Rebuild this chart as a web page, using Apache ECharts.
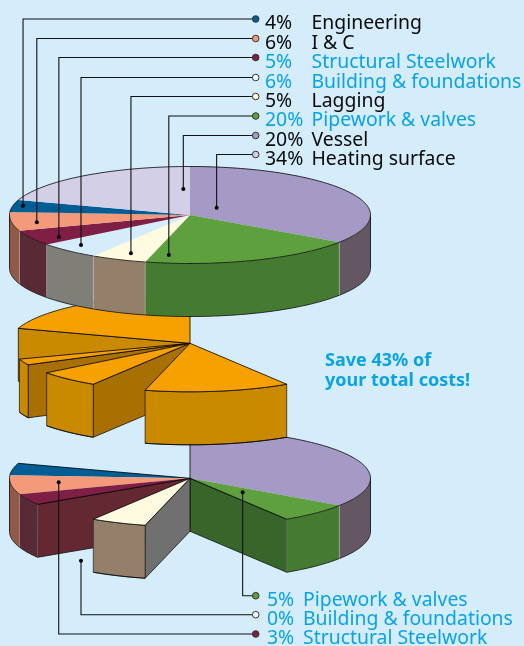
<!DOCTYPE html>
<html><head><meta charset="utf-8">
<style>html,body{margin:0;padding:0;background:#d5ecfb}#c{width:524px;height:646px}</style>
<script src="https://cdn.jsdelivr.net/npm/echarts@6/dist/echarts.min.js"></script>
</head><body><div id="c"></div>
<script>
// ---------- data ----------
var categories = ['Heating surface','Pipework & valves','Lagging','Building & foundations','Structural Steelwork','I & C','Engineering','Vessel'];
var shares = [34.5,19.5,5,5.6,5.1,6.3,4,20];
var savedSpans = [[80,100,7],[67.7,69.7,4],[59,64.6,3],[41,54,1]];
var keptSpans = [[76,80,6],[69.7,76,5],[66,69.7,4],[0,34.5,0],[34.5,41,1],[54,59,2]];
var legendNames = ['Engineering','I & C','Structural Steelwork','Building & foundations','Lagging','Pipework & valves','Vessel','Heating surface'];
var legendValues = ['4%','6%','5%','6%','5%','20%','20%','34%'];
var remainNames = ['Pipework & valves','Building & foundations','Structural Steelwork'];
var remainValues = ['5%','0%','3%'];
var headline = ['Save 43% of','your total costs!'];

// ---------- styles / layout ----------
var BG='#d5ecfb', BLUE='#0aa3e6', INK='#0a0a0a', ORANGE='#f7a100', ORANGE_W='#c98a00', ORANGE_C='#a87000';
var topColor=['#a59ac6','#5fa03e','#fffbe0',BG,'#7f1f45','#f4997a','#005e94','#d3cfe6'];
var wallColor=['#645763','#457b30','#94806a','#7f7f78','#582a35','#915947','#005e94','#d3cfe6'];
var CX=190, RX=180.5, RY=48.5, DEPTH=53, SQ=RY/RX;
var pies=[{cy:215},{cy:343.3},{cy:478.3}];
var keptCut=[null,null,'#642833',null,'#38652a','#707070'];
var keptEdges=[[0,1],[0,0],[1,0],[1,0],[0,1],[1,1]];
var savedCut=[ORANGE_W,ORANGE_C,ORANGE_C,null];
var fontFam='"Noto Sans","Open Sans",sans-serif';

var cum=0, fullSpans=shares.map(function(s,i){var r=[cum,cum+s,i];cum+=s;return r;});

function project(api,cy,r,pct,drop){var p=api.coord([r,pct]);return [p[0],cy+(p[1]-cy)*SQ+(drop||0)];}
function arc(api,cy,a,b,drop){var n=Math.max(1,Math.ceil((b-a)*4)),o=[];for(var i=0;i<=n;i++)o.push(project(api,cy,1,a+(b-a)*i/n,drop));return o;}
function line(pts,c,w){return {type:'polyline',shape:{points:pts},style:{fill:null,stroke:c||'#000',lineWidth:w||0.8},silent:true};}
function poly(pts,f,s,w){return {type:'polygon',shape:{points:pts},style:{fill:f,stroke:s||null,lineWidth:s?(w||0.8):0},silent:true};}

function sectorRenderer(o){
  return function(params,api){
    var idx=params.dataIndex, a=api.value(0), b=api.value(1), c=api.value(2), cy=o.cy, ch=[];
    var cen=project(api,cy,0,0), cen2=[cen[0],cen[1]+DEPTH];
    var faceCol=o.face?o.face:topColor[c], wallCol=o.wall?o.wall:wallColor[c];
    var cut=o.cut?o.cut[idx]:null;
    if(cut){
      var ed=(Math.sin(a*Math.PI/50)<0)?a:b, rim=project(api,cy,1,ed);
      ch.push(poly([cen,rim,[rim[0],rim[1]+DEPTH],cen2],cut,'#111',0.8));
    }
    var wa=Math.max(a,25), wb=Math.min(b,75);
    if(wb>wa){
      var t=arc(api,cy,wa,wb,0), bt=arc(api,cy,wa,wb,DEPTH);
      ch.push(poly(t.concat(bt.slice().reverse()),wallCol,o.wallEdge&&o.wallEdge(idx)||'rgba(255,255,255,0.28)',0.7));
      ch.push(line(bt));
      if(a<=25) ch.push(line([t[0],bt[0]]));
      if(b>=75) ch.push(line([t[t.length-1],bt[bt.length-1]]));
    }
    var top=arc(api,cy,a,b,0);
    ch.push(poly([cen].concat(top),faceCol));
    ch.push(line(top));
    var e=o.edges?o.edges[idx]:[0,0];
    if(e[0]) ch.push(line([cen,top[0]]));
    if(e[1]) ch.push(line([cen,top[top.length-1]]));
    return {type:'group',children:ch};
  };
}

function sectorSeries(pieIdx,spans,o){
  o.cy=pies[pieIdx].cy;
  return {type:'custom',coordinateSystem:'polar',polarIndex:pieIdx,data:spans,clip:false,silent:true,animation:false,renderItem:sectorRenderer(o)};
}

// anchors: share position on the pie, radial fraction, extra drop below the face
var rowsA=[19,38.5,57.5,77.5,96.5,116,135.5,154.5];
var rowsB=[595.7,614.7,634];
var anchorsA=[[78.2,.944],[72.2,.862],[66.1,.857],[62.3,.865],[56.25,.855],[52.25,.833],[98.9,.537],[12.4,.21]];
var anchorsB=[[37.4,.41,0],[62.3,.865,52.4],[73.2,.732,0]];
var dotA=['#005e94','#f4997a','#7f1f45','#f4fafd','#fffbe0','#5fa03e','#a59ac6','#d3cfe6'];
var dotB=['#5fa03e','#f4fafd','#7f1f45'];
var txtA=[INK,INK,BLUE,BLUE,INK,BLUE,INK,INK];
var LEGX=255.7;

function leaderRenderer(cy,rows,anchors,dots,vals,names,cols,xPct,xName){
  return function(params,api){
    var i=params.dataIndex, an=anchors[i], p=project(api,cy,an[1],an[0],an[2]||0), y=rows[i], ch=[];
    ch.push(line([p,[p[0],y],[LEGX,y]],'#111',1.1));
    ch.push({type:'circle',shape:{cx:p[0],cy:p[1],r:2},style:{fill:'#000'},silent:true});
    ch.push({type:'circle',shape:{cx:LEGX,cy:y,r:3.3},style:{fill:dots[i],stroke:'#333',lineWidth:1},silent:true});
    var f='19.4px '+fontFam;
    ch.push({type:'text',style:{x:xPct,y:y+4.5,text:vals[i],fill:cols[i],font:f,verticalAlign:'middle',align:'left'},silent:true});
    ch.push({type:'text',style:{x:xName,y:y+4.5,text:names[i],fill:cols[i],font:f,verticalAlign:'middle',align:'left'},silent:true});
    return {type:'group',children:ch};
  };
}

var polar=[],radiusAxis=[],angleAxis=[];
pies.forEach(function(p,i){
  polar.push({center:[CX,p.cy],radius:RX});
  radiusAxis.push({polarIndex:i,min:0,max:1,show:false});
  angleAxis.push({polarIndex:i,min:0,max:100,startAngle:90,clockwise:true,show:false});
});

var option={
  backgroundColor:BG, animation:false,
  polar:polar, radiusAxis:radiusAxis, angleAxis:angleAxis,
  series:[
    sectorSeries(2,keptSpans,{cut:keptCut,edges:keptEdges,wallEdge:function(i){return i===5?'#222':null;}}),
    sectorSeries(1,savedSpans,{face:ORANGE,wall:ORANGE_W,cut:savedCut,edges:[[1,1],[1,1],[1,1],[1,1]],wallEdge:function(){return '#111';}}),
    sectorSeries(0,fullSpans,{}),
    {type:'custom',coordinateSystem:'polar',polarIndex:0,clip:false,silent:true,animation:false,data:legendNames.map(function(n,i){return [anchorsA[i][1],anchorsA[i][0]];}),
     renderItem:leaderRenderer(pies[0].cy,rowsA,anchorsA,dotA,legendValues,legendNames,txtA,265,311.5)},
    {type:'custom',coordinateSystem:'polar',polarIndex:2,clip:false,silent:true,animation:false,data:remainNames.map(function(n,i){return [anchorsB[i][1],anchorsB[i][0]];}),
     renderItem:leaderRenderer(pies[2].cy,rowsB,anchorsB,dotB,remainValues,remainNames,[BLUE,BLUE,BLUE],267,303)}
  ],
  graphic:[
    {type:'text',left:325,top:351.5,silent:true,style:{text:headline.join('\n'),fill:BLUE,font:'bold 18px '+fontFam,lineHeight:19.5}}
  ]
};
var chart=echarts.init(document.getElementById('c'),null,{renderer:'canvas'});
chart.setOption(option);
</script></body></html>
